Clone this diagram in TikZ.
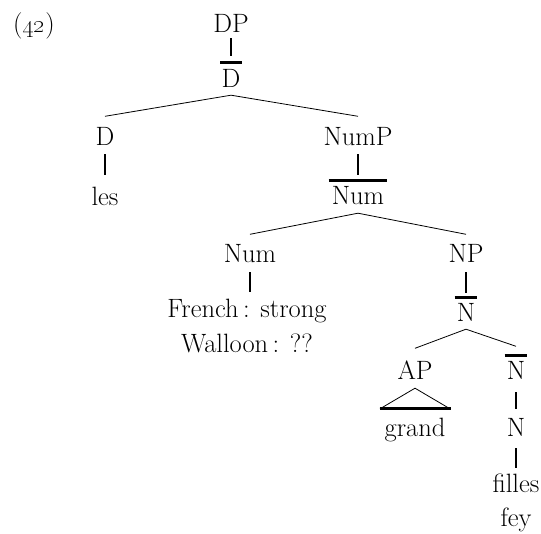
\documentclass[tikz,border=0pt]{standalone}
\begin{document}
\begin{tikzpicture}[x=1pt,y=-1pt,
  lab/.style={inner sep=0pt, text height=17.5pt, text depth=0pt, anchor=base, font=\fontsize{26.5}{35}\selectfont},
  stem/.style={line width=1.6pt},
  branch/.style={line width=0.8pt},
  barline/.style={line width=2.6pt}]
\useasboundingbox (0,0) rectangle (541,534);
% nodes
\node[lab, anchor=base west] (ex) at (13,33) {(\oldstylenums{42})};
\node[lab] (dp) at (231,33) {DP};
\node[lab] (dbar) at (231,88) {D};
\node[lab] (d) at (105,146) {D};
\node[lab] (les) at (105,206) {les};
\node[lab] (nump) at (358,146) {NumP};
\node[lab] (numbar) at (358,205) {Num};
\node[lab] (num) at (250,263) {Num};
\node[lab] (fr) at (247,318) {French\,: strong};
\node[lab] (wa) at (247,353) {Walloon\,: ??};
\node[lab] (np) at (466,263) {NP};
\node[lab] (nbara) at (466,322) {N};
\node[lab] (ap) at (415,380) {AP};
\node[lab] (nbarb) at (516,380) {N};
\node[lab] (grand) at (415,437) {grand};
\node[lab] (n) at (516,437) {N};
\node[lab] (filles) at (516,492) {filles};
\node[lab] (fey) at (516,526) {fey};
% bars
\draw[barline] ([xshift=-1pt,yshift=8pt]dbar.north west) -- ([xshift=1pt,yshift=8pt]dbar.north east);
\draw[barline] ([xshift=-3pt,yshift=7pt]numbar.north west) -- ([xshift=3pt,yshift=7pt]numbar.north east);
\draw[barline] ([xshift=-2pt,yshift=7pt]nbara.north west) -- ([xshift=2pt,yshift=7pt]nbara.north east);
\draw[barline] ([xshift=-2pt,yshift=7pt]nbarb.north west) -- ([xshift=2pt,yshift=7pt]nbarb.north east);
% stems
\draw[stem] ([yshift=-5pt]dp.south) -- ([yshift=14pt]dbar.north);
\draw[stem] ([yshift=-8pt]d.south) -- ([yshift=13pt]les.north);
\draw[stem] ([yshift=-8pt]nump.south) -- ([yshift=12.5pt]numbar.north);
\draw[stem] ([yshift=-9pt]num.south) -- ([yshift=8pt]num.south |- fr.north);
\draw[stem] ([yshift=-9pt]np.south) -- ([yshift=11.5pt]nbara.north);
\draw[stem] ([yshift=-12pt]nbarb.south) -- ([yshift=10.5pt]n.north);
\draw[stem] ([yshift=-11pt]n.south) -- ([yshift=6.5pt]filles.north);
% branches
\draw[branch] ([yshift=12pt]d.north) -- ([yshift=-7pt]dbar.south) -- ([yshift=12pt]nump.north);
\draw[branch] ([yshift=11pt]num.north) -- ([yshift=-8pt]numbar.south) -- ([yshift=11pt]np.north);
\draw[branch] ([yshift=14pt]ap.north) -- ([yshift=-7pt]nbara.south) -- ([yshift=16pt]nbarb.north);
% triangle
\draw[branch] ([xshift=-35pt,yshift=10.5pt]grand.north) -- ([yshift=-8pt]ap.south) -- ([xshift=35pt,yshift=10.5pt]grand.north);
\draw[barline] ([xshift=-35.5pt,yshift=10.5pt]grand.north) -- ([xshift=35.5pt,yshift=10.5pt]grand.north);
\end{tikzpicture}
\end{document}
